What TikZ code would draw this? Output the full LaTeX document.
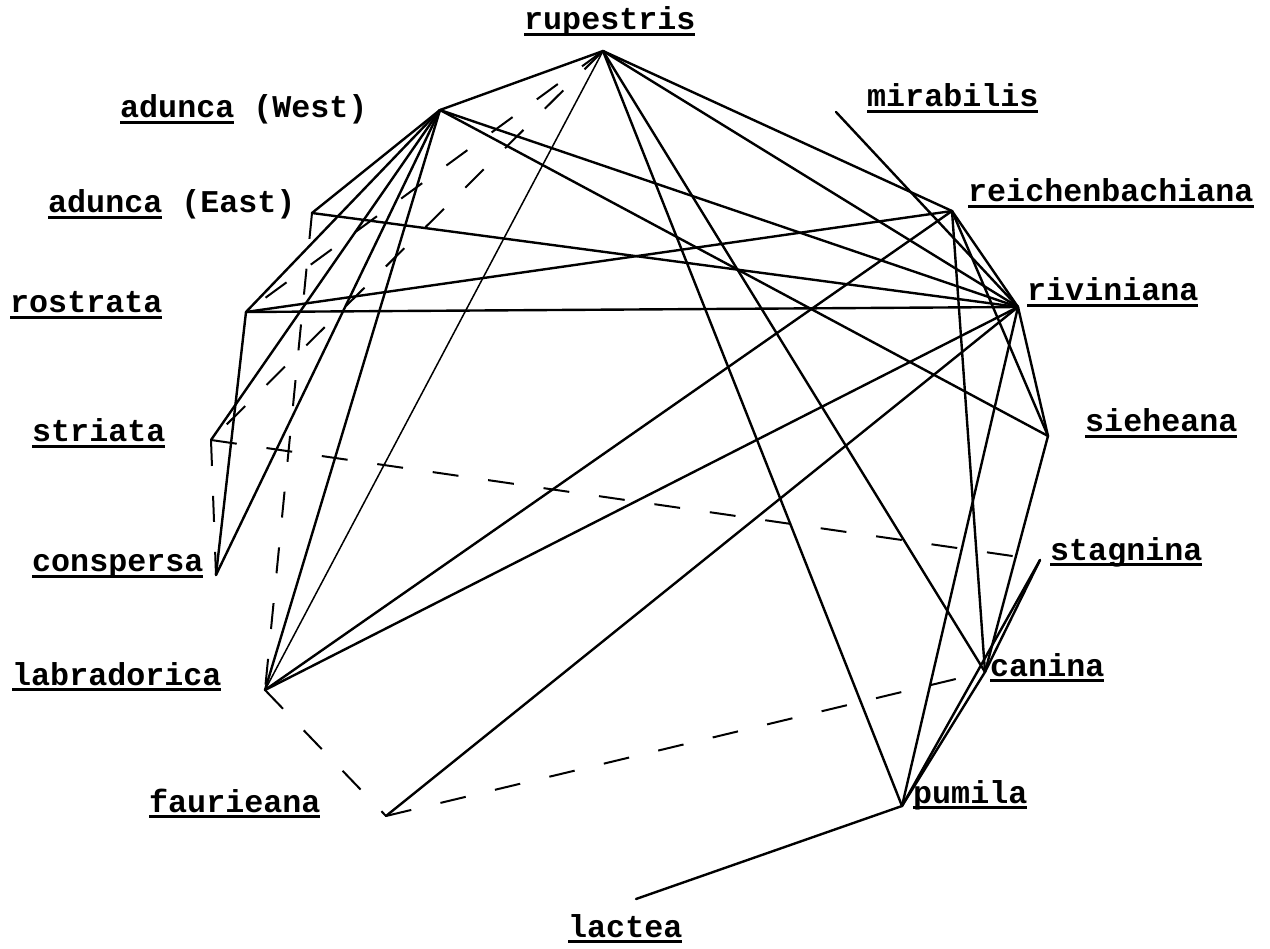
\documentclass[tikz,border=0pt]{standalone}
\usepackage{fontspec}
\setmainfont{Liberation Mono}
\newcommand\ulword[1]{\setbox0=\hbox{#1}\rlap{\rule[-6pt]{\wd0}{2.8pt}}\box0\relax}
\begin{document}
\begin{tikzpicture}[x=1pt,y=-1pt,
  lab/.style={font=\fontsize{31.7}{32}\selectfont\bfseries, inner sep=0pt, anchor=base west},
  edge/.style={line width=2.4pt, line cap=round},
  thinedge/.style={line width=1.5pt, line cap=round},
  dashedge/.style={line width=2pt, dash pattern=on 26pt off 30pt}]
\useasboundingbox[fill=white] (0,0) rectangle (1270,949);
% vertices
\coordinate (rup) at (603,51);
\coordinate (adW) at (440,110);
\coordinate (adE) at (312,213);
\coordinate (ros) at (246,312);
\coordinate (str) at (211,440);
\coordinate (con) at (216,575);
\coordinate (lab) at (265,690);
\coordinate (fau) at (386,816);
\coordinate (pum) at (902,806);
\coordinate (lac) at (636,899);
\coordinate (can) at (985,672);
\coordinate (sta) at (1040,560);
\coordinate (sie) at (1048,436);
\coordinate (riv) at (1018,307);
\coordinate (rei) at (952,211);
\coordinate (mir) at (836,112);
% labels
\node[lab] (Lrup) at (524,30) {\ulword{rupestris}};
\node[lab] (LadW) at (120,118) {\ulword{adunca} (West)};
\node[lab] (Lmir) at (867,107) {\ulword{mirabilis}};
\node[lab] (LadE) at (48,213) {\ulword{adunca} (East)};
\node[lab] (Lrei) at (968,202) {\ulword{reichenbachiana}};
\node[lab] (Lros) at (10,313) {\ulword{rostrata}};
\node[lab] (Lriv) at (1027,301) {\ulword{riviniana}};
\node[lab] (Lstr) at (32,442) {\ulword{striata}};
\node[lab] (Lsie) at (1085,432) {\ulword{sieheana}};
\node[lab] (Lcon) at (32,572) {\ulword{conspersa}};
\node[lab] (Lsta) at (1050,560) {\ulword{stagnina}};
\node[lab] (Llab) at (12,685) {\ulword{labradorica}};
\node[lab] (Lcan) at (990,676) {\ulword{canina}};
\node[lab] (Lfau) at (149,812) {\ulword{faurieana}};
\node[lab] (Lpum) at (913,803) {\ulword{pumila}};
\node[lab] (Llac) at (568,937) {\ulword{lactea}};
% solid edges
\draw[edge] (rup) -- (adW);
\draw[edge] (rup) -- (rei);
\draw[edge] (rup) -- (riv);
\draw[edge] (rup) -- (can);
\draw[edge] (rup) -- (pum);
\draw[thinedge] (rup) -- (lab);
\draw[edge] (adW) -- (adE);
\draw[edge] (adW) -- (ros);
\draw[edge] (adW) -- (str);
\draw[edge] (adW) -- (con);
\draw[edge] (adW) -- (lab);
\draw[edge] (adW) -- (riv);
\draw[edge] (adW) -- (sie);
\draw[edge] (adE) -- (riv);
\draw[edge] (ros) -- (rei);
\draw[edge] (ros) -- (riv);
\draw[edge] (ros) -- (con);
\draw[edge] (lab) -- (rei);
\draw[edge] (lab) -- (riv);
\draw[edge] (fau) -- (riv);
\draw[edge] (mir) -- (riv);
\draw[edge] (rei) -- (riv);
\draw[edge] (rei) -- (sie);
\draw[edge] (rei) -- (can);
\draw[edge] (riv) -- (sie);
\draw[edge] (riv) -- (pum);
\draw[edge] (sie) -- (can);
\draw[edge] (sta) -- (can);
\draw[edge] (sta) -- (pum);
\draw[edge] (can) -- (pum);
\draw[edge] (pum) -- (lac);
% dashed edges
\draw[dashedge] (rup) -- (ros);
\draw[dashedge] (rup) -- (str);
\draw[dashedge] (adE) -- (lab);
\draw[dashedge] (str) -- (con);
\draw[dashedge] (str) -- (sta);
\draw[dashedge] (lab) -- (fau);
\draw[dashedge] (fau) -- (can);
\end{tikzpicture}
\end{document}
